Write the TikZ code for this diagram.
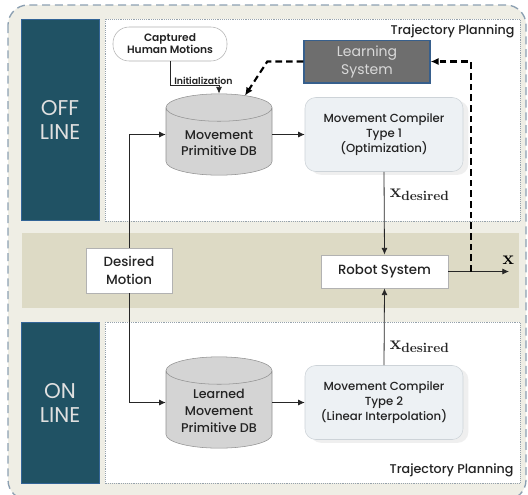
\documentclass[tikz,border=0pt]{standalone}
\usepackage[no-math]{fontspec}
\IfFontExistsTF{Poppins Medium}{\setmainfont{Poppins Medium}[BoldFont=Poppins SemiBold]}{\setmainfont{Poppins}}
\newfontfamily\lightfont{Poppins}
\usetikzlibrary{arrows.meta,positioning,shapes.geometric,shadows}

\definecolor{panelteal}{RGB}{32,82,100}
\definecolor{tealedge}{RGB}{50,100,150}
\definecolor{outerbg}{RGB}{239,238,229}
\definecolor{bandbg}{RGB}{221,218,197}
\definecolor{dbgray}{RGB}{212,212,212}
\definecolor{dbedge}{RGB}{145,145,145}
\definecolor{compfill}{RGB}{237,241,244}
\definecolor{compedge}{RGB}{205,211,216}
\definecolor{learnfill}{RGB}{110,110,110}
\definecolor{learnedge}{RGB}{55,95,140}
\definecolor{dashedge}{RGB}{140,160,178}
\definecolor{dotedge}{RGB}{150,162,172}
\definecolor{textdark}{RGB}{35,35,35}

\begin{document}
\begin{tikzpicture}[x=0.75pt,y=-0.75pt,
  sidebox/.style={draw=tealedge, fill=panelteal, text=white!88!black, align=center,
    minimum width=58.5pt, font=\lightfont\fontsize{16}{18}\selectfont},
  capbox/.style={draw=black!30, fill=white, rounded corners=12pt, align=center,
    minimum width=85.5pt, minimum height=25.5pt, text=textdark, inner sep=1pt,
    font=\fontsize{8}{9}\selectfont\bfseries},
  dbnode/.style={cylinder, shape border rotate=90, aspect=0.35, draw=dbedge, fill=dbgray,
    align=center, text=textdark, minimum width=79.5pt, inner sep=1pt,
    anchor=shape center, font=\fontsize{9.5}{12.5}\selectfont},
  compbox/.style={draw=compedge, fill=compfill, rounded corners=8pt, align=center,
    minimum width=118.5pt, minimum height=55.5pt, text=textdark,
    drop shadow={shadow xshift=4pt, shadow yshift=-2.5pt, fill=black!30, opacity=0.2},
    font=\fontsize{8.8}{11.5}\selectfont},
  learnbox/.style={draw=learnedge, line width=1pt, fill=learnfill, text=white!85!black,
    align=center, minimum width=94.5pt, minimum height=32pt,
    font=\lightfont\fontsize{10.5}{13.5}\selectfont},
  whitebox/.style={draw=black!30, fill=white, align=center, text=textdark,
    font=\fontsize{10}{13.5}\selectfont},
  tplabel/.style={text=textdark, font=\fontsize{9.5}{11}\selectfont, inner sep=1pt},
  flow/.style={-{Latex[length=5pt,width=4.5pt]}, black!85, line width=0.6pt},
  feedback/.style={-{Latex[length=6pt,width=5.5pt]}, black, line width=1.6pt,
    dash pattern=on 5pt off 3pt},
  xlab/.style={font=\Large, inner sep=1pt}]

  \useasboundingbox (0,0) rectangle (528,494);

  % Background frame
  \draw[dashedge, fill=outerbg, line width=1pt, dash pattern=on 6pt off 3.5pt,
    rounded corners=15pt] (8,5) rectangle (526,500);

  % Panels
  \draw[dotedge, fill=white, densely dotted] (105,19) rectangle (520,221);
  \draw[dotedge, fill=white, densely dotted] (105,322) rectangle (520,483);
  \fill[bandbg] (22,233) rectangle (519,308);

  % Off / on line boxes
  \node[sidebox, minimum height=150.75pt] (offline) at (60,119.5) {OFF\\LINE};
  \node[sidebox, minimum height=120.75pt] (online) at (60,402.5) {ON\\LINE};

  \node[tplabel, anchor=east] (tptop) at (516,31) {Trajectory Planning};
  \node[tplabel, anchor=east] (tpbot) at (515,470) {Trajectory Planning};

  % Off line part
  \node[capbox] (captured) at (170,44) {Captured\\Human Motions};
  \node[dbnode, minimum height=61pt] (mpdb) at (219,134.5) {Movement\\Primitive DB};
  \node[learnbox] (learn) at (367,61.5) {Learning\\System};
  \node[compbox] (comp1) at (384,134.5) {Movement Compiler\\Type 1\\(Optimization)};

  % Middle band
  \node[whitebox, minimum width=64.5pt, minimum height=34pt] (desired) at (129,270.5) {Desired\\Motion};
  \node[whitebox, minimum width=95pt, minimum height=25pt] (robot) at (384.5,271.5) {Robot System};
  \coordinate (xout) at (509,271.5);
  \coordinate (tap) at (471,271.5);

  % On line part
  \node[dbnode, minimum height=68.5pt] (ldb) at (219,402.5) {Learned\\Movement\\Primitive DB};
  \node[compbox] (comp2) at (384,402.5) {Movement Compiler\\Type 2\\(Linear Interpolation)};

  % Connections
  \coordinate (initbend) at (170,85);
  \draw[flow] (captured.south) -- (initbend) -| (mpdb.top);
  \node[tplabel, font=\fontsize{7}{8}\selectfont\bfseries, anchor=south west] (initlab)
    at ([xshift=2pt,yshift=-1pt]initbend) {Initialization};
  \draw[feedback] (learn.west) -- ++(-36,0) -- ([xshift=19.5pt,yshift=-1.5pt]mpdb.top);
  \draw[flow] (desired.north) |- (mpdb.west |- mpdb.shape center);
  \draw[flow] (desired.south) |- (ldb.west |- ldb.shape center);
  \draw[flow] (mpdb.east |- mpdb.shape center) -- (comp1.west);
  \draw[flow] (ldb.east |- ldb.shape center) -- (comp2.west);
  \draw[flow] (comp1.south) -- (robot.north)
    node[pos=0.28, right=3pt, xlab] {$\mathbf{x}_{\mathbf{desired}}$};
  \draw[flow] (comp2.north) -- (robot.south)
    node[pos=0.24, right=3pt, xlab] {$\mathbf{x}_{\mathbf{desired}}$};
  \draw[flow] (robot.east) -- (xout);
  \node[xlab, above left=4pt and -5pt] (xlabel) at (xout) {$\mathbf{x}$};
  \draw[feedback] (tap) |- (learn.east);
\end{tikzpicture}
\end{document}
